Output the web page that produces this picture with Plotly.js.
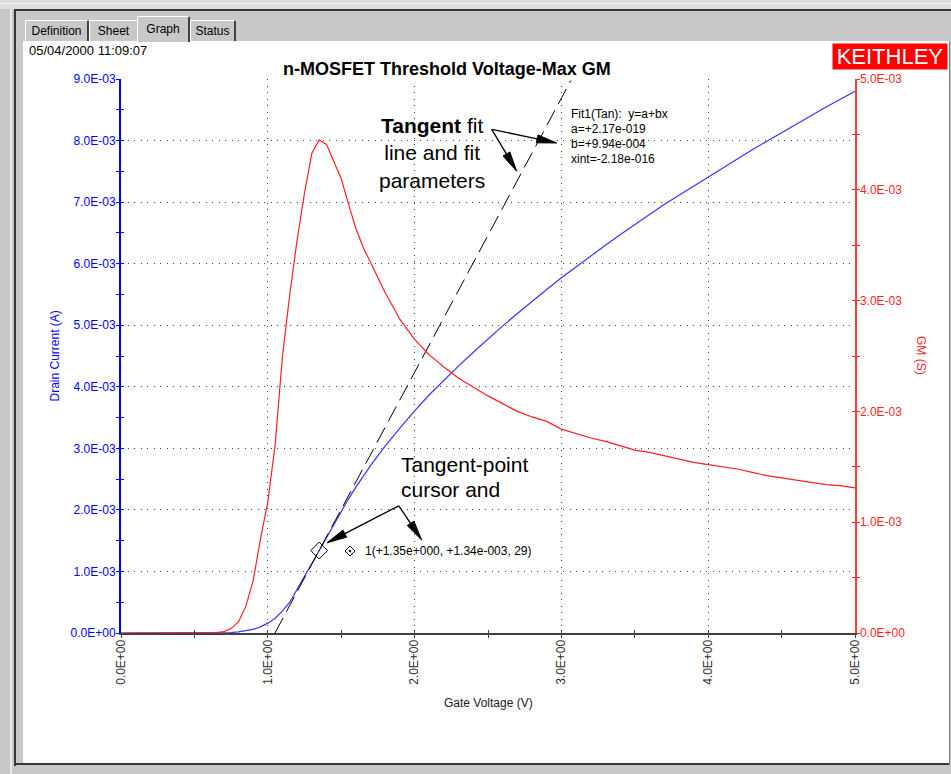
<!DOCTYPE html>
<html>
<head>
<meta charset="utf-8">
<script src="https://cdn.plot.ly/plotly-3.0.1.min.js"></script>
<style>
html,body{margin:0;padding:0;}
body{width:951px;height:774px;overflow:hidden;position:relative;background:#c8c8c8;font-family:"Liberation Sans",Arial,sans-serif;}
.abs{position:absolute;}
.tab{position:absolute;background:#c8c8c8;border-left:1px solid #ffffff;border-top:1px solid #ffffff;font-size:12px;color:#000;text-align:center;box-sizing:border-box;border-radius:2px 2px 0 0;}
#plot{position:absolute;left:0;top:0;width:951px;height:774px;}
</style>
</head>
<body>
<div class="abs" style="left:0;top:0;width:951px;height:9px;background:#dedede"></div>
<div class="abs" style="left:0;top:3px;width:951px;height:1px;background:#f6f6f6"></div>
<div class="abs" style="left:10px;top:9px;width:2px;height:765px;background:#e8e8e8"></div>
<div class="abs" style="left:14px;top:9px;width:2px;height:757px;background:#383838"></div>
<div class="abs" style="left:14px;top:9px;width:937px;height:2px;background:#383838"></div>
<div class="abs" style="left:14px;top:763px;width:936px;height:2px;background:#383838"></div>
<div class="abs" style="left:949px;top:41px;width:1px;height:724px;background:#808080"></div>
<div class="abs" style="left:23px;top:41px;width:926px;height:722px;background:#ffffff"></div>

<div class="tab" style="left:25px;top:20px;width:64px;height:21px;line-height:21px;border-right:2px solid #404040;">Definition</div>
<div class="tab" style="left:89px;top:20px;width:48px;height:21px;line-height:21px;">Sheet</div>
<div class="tab" style="left:190px;top:20px;width:46px;height:21px;line-height:21px;border-right:2px solid #404040;">Status</div>
<div class="tab" style="left:137px;top:16px;width:53px;height:26px;line-height:24px;border-right:2px solid #404040;">Graph</div>

<div id="plot"></div>
<script>
// ---------------- data ----------------
const gateV = [0, 0.2, 0.4, 0.6, 0.65, 0.70, 0.75, 0.80, 0.85, 0.90, 0.95, 1.00, 1.05, 1.10, 1.15, 1.20, 1.25, 1.30, 1.35, 1.40, 1.45, 1.50, 1.55, 1.60, 1.65, 1.70, 1.75, 1.80, 1.90, 2.00, 2.10, 2.20, 2.30, 2.40, 2.50, 2.60, 2.70, 2.80, 2.90, 3.00, 3.10, 3.20, 3.30, 3.40, 3.50, 3.60, 3.70, 3.80, 3.90, 4.00, 4.10, 4.20, 4.30, 4.40, 4.50, 4.60, 4.70, 4.80, 4.90, 5.00];
// drain current in mA
const drainCurrent_mA = [0, 0, 0, 0, 0, 0.003, 0.008, 0.018, 0.035, 0.06, 0.10, 0.16, 0.24, 0.36, 0.50, 0.70, 0.92, 1.13, 1.34, 1.56, 1.78, 1.98, 2.18, 2.37, 2.55, 2.72, 2.88, 3.04, 3.33, 3.61, 3.87, 4.11, 4.34, 4.56, 4.78, 4.99, 5.19, 5.39, 5.58, 5.77, 5.95, 6.13, 6.30, 6.47, 6.64, 6.80, 6.96, 7.11, 7.26, 7.41, 7.56, 7.71, 7.85, 7.99, 8.13, 8.27, 8.41, 8.54, 8.67, 8.80];
// transconductance in mS
const gm_mS = [0, 0, 0, 0, 0.004, 0.012, 0.04, 0.10, 0.24, 0.47, 0.85, 1.18, 1.70, 2.50, 3.06, 3.55, 3.97, 4.33, 4.45, 4.41, 4.26, 4.10, 3.87, 3.65, 3.48, 3.34, 3.21, 3.07, 2.83, 2.65, 2.51, 2.40, 2.30, 2.22, 2.14, 2.07, 2.00, 1.95, 1.91, 1.84, 1.80, 1.76, 1.73, 1.69, 1.65, 1.63, 1.60, 1.57, 1.54, 1.52, 1.50, 1.48, 1.45, 1.42, 1.40, 1.38, 1.36, 1.34, 1.33, 1.31];
// tangent fit line end points
const tangentV = [1.049, 3.07];
const tangentI_mA = [0, 9.0];
// tangent-point cursor
const cursorV = [1.35];
const cursorI_mA = [1.34];

const xTickVals = [0, 1, 2, 3, 4, 5];
const xTickText = ["0.0E+00", "1.0E+00", "2.0E+00", "3.0E+00", "4.0E+00", "5.0E+00"];
const leftTickVals_mA = [0, 1, 2, 3, 4, 5, 6, 7, 8, 9];
const leftTickText = ["0.0E+00", "1.0E-03", "2.0E-03", "3.0E-03", "4.0E-03", "5.0E-03", "6.0E-03", "7.0E-03", "8.0E-03", "9.0E-03"];
const rightTickVals_mS = [0, 1, 2, 3, 4, 5];
const rightTickText = ["0.0E+00", "1.0E-03", "2.0E-03", "3.0E-03", "4.0E-03", "5.0E-03"];

const chartTitle = "n-MOSFET Threshold Voltage-Max GM";
const dateText = "05/04/2000 11:09:07";
const fitParamLines = ["Fit1(Tan):\u00a0\u00a0y=a+bx", "a=+2.17e-019", "b=+9.94e-004", "xint=-2.18e-016"];
const cursorLabel = "1(+1.35e+000, +1.34e-003, 29)";

// ---------------- derived ----------------
const mA = v => v * 1e-3;
const drainI = drainCurrent_mA.map(mA);
const gm = gm_mS.map(mA);
const tangentI = tangentI_mA.map(mA);
const cursorI = cursorI_mA.map(mA);
const leftTickVals = leftTickVals_mA.map(mA);
const rightTickVals = rightTickVals_mS.map(mA);
function halves(max, step) { const a = []; for (let v = 0; v <= max + 1e-12; v += step) a.push(+v.toPrecision(6)); return a; }
const xHalf = halves(5, 0.5);
const leftHalf = halves(9e-3, 0.5e-3);
const rightHalf = halves(5e-3, 0.5e-3);

const FONT = '"Liberation Sans", Arial, sans-serif';
const BLUE = '#0000ff', RED = '#ff1f1f', DARK = '#404040';
const L = 121, R = 855, T = 79, B = 633;
const px = p => (p - L) / (R - L);
const py = p => (B - p) / (B - T);

function ann(text, xp, yp, o) {
  const a = {text: text, xref: 'paper', yref: 'paper', x: px(xp), y: py(yp), showarrow: false,
    xanchor: 'center', yanchor: 'middle', font: {family: FONT, size: 12, color: '#000'}};
  return Object.assign(a, o || {});
}
function arrow(tail, tip, len, hw) {
  const dx = tip[0] - tail[0], dy = tip[1] - tail[1], d = Math.hypot(dx, dy), ux = dx / d, uy = dy / d;
  const bx = tip[0] - ux * len, by = tip[1] - uy * len;
  const p1 = [bx - uy * hw, by + ux * hw], p2 = [bx + uy * hw, by - ux * hw];
  const P = p => px(p[0]).toFixed(5) + ',' + py(p[1]).toFixed(5);
  return [
    {type: 'path', xref: 'paper', yref: 'paper', path: 'M' + P(tail) + 'L' + P([bx + ux, by + uy]), line: {color: '#000', width: 1.3}},
    {type: 'path', xref: 'paper', yref: 'paper', path: 'M' + P(tip) + 'L' + P(p1) + 'L' + P(p2) + 'Z', fillcolor: '#000', line: {color: '#000', width: 1}}
  ];
}
const tanTail = [491.7, 129.3], curTail = [398.8, 505.8];
let shapes = [].concat(
  arrow(tanTail, [556.7, 143.0], 20, 4),
  arrow(tanTail, [516.7, 171.2], 20, 4),
  arrow(curTail, [327.0, 542.8], 20, 4),
  arrow(curTail, [421.7, 540.0], 20, 4)
);
// small cursor symbol before the cursor label
shapes.push({type: 'path', xref: 'paper', yref: 'paper',
  path: 'M' + px(345) + ',' + py(551) + 'L' + px(350) + ',' + py(546) + 'L' + px(355) + ',' + py(551) + 'L' + px(350) + ',' + py(556) + 'Z',
  line: {color: '#000', width: 1}});
shapes.push({type: 'circle', xref: 'paper', yref: 'paper', x0: px(349), x1: px(351), y0: py(552), y1: py(550), fillcolor: '#000', line: {color: '#000', width: 0.5}});

const traces = [
  {x: gateV, y: gm, yaxis: 'y2', type: 'scatter', mode: 'lines', line: {color: RED, width: 1.2}, hoverinfo: 'skip'},
  {x: gateV, y: drainI, type: 'scatter', mode: 'lines', line: {color: '#3535ff', width: 1.2}, hoverinfo: 'skip'},
  {x: tangentV, y: tangentI, type: 'scatter', mode: 'lines', line: {color: '#000', width: 1, dash: '17px,7px'}, hoverinfo: 'skip'},
  {x: cursorV, y: cursorI, type: 'scatter', mode: 'markers', marker: {symbol: 'diamond-open-dot', size: 13, color: '#000', line: {color: '#000', width: 1}}, hoverinfo: 'skip'},
  {x: [], y: [], xaxis: 'x2', yaxis: 'y3', type: 'scatter', mode: 'lines', hoverinfo: 'skip'},
  {x: [], y: [], yaxis: 'y4', type: 'scatter', mode: 'lines', hoverinfo: 'skip'}
];

const gridDash = '1px,5.5px';
const layout = {
  width: 951, height: 774, autosize: false, showlegend: false,
  margin: {l: L, r: 951 - R, t: T, b: 774 - B, pad: 0},
  paper_bgcolor: 'rgba(0,0,0,0)', plot_bgcolor: 'rgba(0,0,0,0)',
  font: {family: FONT, size: 12, color: '#000'},
  xaxis: {range: [0, 5], fixedrange: true, showline: true, linecolor: DARK, linewidth: 2, layer: 'below traces',
    ticks: 'outside', ticklen: 3, tickwidth: 1, tickcolor: DARK, tickmode: 'array', tickvals: xTickVals, ticktext: xTickText,
    tickangle: -90, tickfont: {family: FONT, size: 12, color: '#303030'}, ticklabelstandoff: -3,
    showgrid: true, gridcolor: DARK, gridwidth: 1, griddash: gridDash, zeroline: false,
    minor: {tickmode: 'array', tickvals: xHalf, ticks: 'outside', ticklen: 3, tickwidth: 1, tickcolor: DARK, showgrid: false}},
  xaxis2: {overlaying: 'x', anchor: 'y', side: 'bottom', range: [0, 5], fixedrange: true, showline: false, showgrid: false, zeroline: false,
    ticks: 'inside', ticklen: 3, tickwidth: 1, tickcolor: DARK, tickmode: 'array', tickvals: xHalf, showticklabels: false},
  yaxis: {range: [0, 9e-3], fixedrange: true, showline: true, linecolor: BLUE, linewidth: 2, layer: 'below traces',
    ticks: 'outside', ticklen: 3, tickwidth: 1, tickcolor: BLUE, tickmode: 'array', tickvals: leftTickVals, ticktext: leftTickText,
    tickfont: {family: FONT, size: 12, color: BLUE}, ticklabelstandoff: -2,
    showgrid: true, gridcolor: DARK, gridwidth: 1, griddash: gridDash, zeroline: false,
    minor: {tickmode: 'array', tickvals: leftHalf, ticks: 'outside', ticklen: 3, tickwidth: 1, tickcolor: BLUE, showgrid: false}},
  yaxis2: {overlaying: 'y', side: 'right', anchor: 'x', range: [0, 5e-3], fixedrange: true, showline: true, linecolor: '#ff3a3a', linewidth: 1.5,
    ticks: 'outside', ticklen: 3, tickwidth: 1, tickcolor: RED, tickmode: 'array', tickvals: rightTickVals, ticktext: rightTickText,
    tickfont: {family: FONT, size: 12, color: RED}, ticklabelstandoff: -2, showgrid: false, zeroline: false,
    minor: {tickmode: 'array', tickvals: rightHalf, ticks: 'outside', ticklen: 3, tickwidth: 1, tickcolor: RED, showgrid: false}},
  yaxis3: {overlaying: 'y', side: 'left', anchor: 'x', range: [0, 9e-3], fixedrange: true, showline: false, showgrid: false, zeroline: false,
    ticks: 'inside', ticklen: 3, tickwidth: 1, tickcolor: BLUE, tickmode: 'array', tickvals: leftHalf, showticklabels: false},
  yaxis4: {overlaying: 'y', side: 'right', anchor: 'x', range: [0, 5e-3], fixedrange: true, showline: false, showgrid: false, zeroline: false,
    ticks: 'inside', ticklen: 3, tickwidth: 1, tickcolor: RED, tickmode: 'array', tickvals: rightHalf, showticklabels: false},
  shapes: shapes,
  annotations: [
    ann('<b>' + chartTitle + '</b>', 446.5, 69, {font: {family: FONT, size: 18, color: '#000'}, bgcolor: '#ffffff', borderpad: 1}),
    ann(dateText, 27, 50.5, {xanchor: 'left', font: {family: FONT, size: 13, color: '#000'}}),
    ann('KEITHLEY', 890, 56.8, {font: {family: FONT, size: 22, color: '#ffffff'}, bgcolor: '#ff0000', width: 114, height: 25, borderpad: 0}),
    ann('Drain Current (A)', 54.5, 356, {textangle: -90, font: {family: FONT, size: 12, color: BLUE}}),
    ann('GM (S)', 921, 355, {textangle: 90, font: {family: FONT, size: 12, color: RED}}),
    ann('Gate Voltage (V)', 488, 702.8, {font: {family: FONT, size: 12, color: '#202020'}}),
    ann(fitParamLines[0], 569, 114.1, {xanchor: 'left'}),
    ann(fitParamLines[1], 569, 129.1, {xanchor: 'left'}),
    ann(fitParamLines[2], 569, 144.1, {xanchor: 'left'}),
    ann(fitParamLines[3], 569, 158.5, {xanchor: 'left'}),
    ann(cursorLabel, 363, 550.8, {xanchor: 'left'}),
    ann('<b>Tangent</b> fit<br>line and fit<br>parameters', 432, 152.7, {font: {family: FONT, size: 21, color: '#000'}}),
    ann('Tangent-point', 399, 464.4, {xanchor: 'left', font: {family: FONT, size: 21, color: '#000'}}),
    ann('cursor and', 399, 489.4, {xanchor: 'left', font: {family: FONT, size: 21, color: '#000'}})
  ]
};

Plotly.newPlot('plot', traces, layout, {displayModeBar: false, staticPlot: true});
</script>
</body>
</html>
